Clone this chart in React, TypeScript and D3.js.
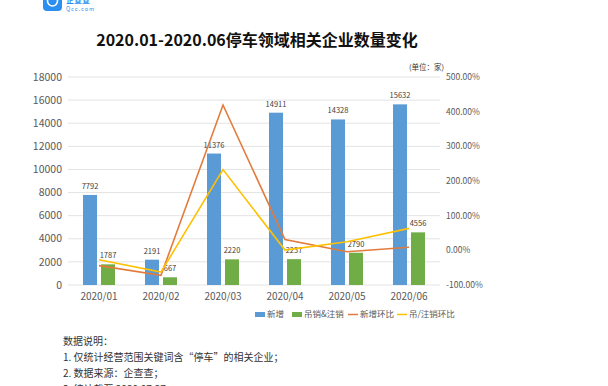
import React from 'react';
import * as d3 from 'd3';

const months = ['2020/01', '2020/02', '2020/03', '2020/04', '2020/05', '2020/06'];
const added = [7792, 2191, 11376, 14911, 14328, 15632];
const revoked = [1787, 667, 2220, 2237, 2790, 4556];
const addedMoM = [-44, -71.9, 419.2, 31.1, -3.9, 9.1];
const revokedMoM = [-27, -62.7, 232.8, 0.8, 24.7, 63.3];
const leftTicks = [0, 2000, 4000, 6000, 8000, 10000, 12000, 14000, 16000, 18000];
const rightTicks = [-100, 0, 100, 200, 300, 400, 500];
const notes = [
  '数据说明：',
  '1. 仅统计经营范围关键词含“停车”的相关企业；',
  '2. 数据来源：企查查；',
  '3. 统计截至 2020.07.27',
];

const W = 608;
const H = 386;
const M = { top: 77, right: 168, bottom: 101, left: 68 };
const FONT = '"Noto Sans CJK SC", "Noto Sans", sans-serif';

const BLUE = '#5b9bd5';
const GREEN = '#70ad47';
const ORANGE = '#e27b3c';
const YELLOW = '#ffc000';

export default function App() {
  const x = d3.scaleBand().domain(months).range([M.left, W - M.right]);
  const y = d3.scaleLinear().domain([0, 18000]).range([H - M.bottom, M.top]);
  const y2 = d3.scaleLinear().domain([-100, 500]).range([H - M.bottom, M.top]);
  const barW = 14;
  const cx = (m: string) => (x(m) as number) + x.bandwidth() / 2;

  const line = d3
    .line<number>()
    .x((_, i) => cx(months[i]))
    .y((d) => y2(d));

  const legend = [
    { label: '新增', color: BLUE, kind: 'rect', x: 255 },
    { label: '吊销&注销', color: GREEN, kind: 'rect', x: 292 },
    { label: '新增环比', color: ORANGE, kind: 'line', x: 348 },
    { label: '吊/注销环比', color: YELLOW, kind: 'line', x: 397 },
  ];

  return (
    <svg width={W} height={H} style={{ position: 'absolute', left: 0, top: 0, background: '#fff' }} fontFamily={FONT}>
      {/* logo, cut by the top edge like in the source image */}
      <rect x={43} y={-8} width={19} height={19} rx={4} fill="#2a8ff0" />
      <circle cx={52.5} cy={1} r={5} fill="none" stroke="#fff" strokeWidth={1.6} />
      <text x={66} y={3} fontSize={8} fill="#2a8ff0" fontWeight="bold">企查查</text>
      <text x={66} y={11} fontSize={5.5} fill="#2a8ff0" letterSpacing={1}>Qcc.com</text>

      <text x={257} y={46} textAnchor="middle" fontSize={16} fontWeight="bold" fill="#111">
        2020.01-2020.06停车领域相关企业数量变化
      </text>
      <text x={444} y={70} textAnchor="end" fontSize={7.5} fill="#333">(单位：家)</text>

      {leftTicks.map((t) => (
        <g key={t}>
          <line x1={M.left} x2={W - M.right} y1={y(t)} y2={y(t)} stroke="#e3e3e3" strokeWidth={1} />
          <text x={62} y={y(t)} dy="0.35em" textAnchor="end" fontSize={10.5} fill="#595959">{t}</text>
        </g>
      ))}
      {rightTicks.map((t) => (
        <text key={t} x={446} y={y2(t)} dy="0.35em" fontSize={8.5} fill="#595959">
          {t.toFixed(2)}%
        </text>
      ))}

      {months.map((m, i) => (
        <g key={m}>
          <rect x={cx(m) - 16} y={y(added[i])} width={barW} height={y(0) - y(added[i])} fill={BLUE} />
          <rect x={cx(m) + 2} y={y(revoked[i])} width={barW} height={y(0) - y(revoked[i])} fill={GREEN} />
          <text x={cx(m) - 9} y={y(added[i]) - 6} textAnchor="middle" fontSize={7.5} fill="#404040">{added[i]}</text>
          <text x={cx(m) + 9} y={y(revoked[i]) - 6} textAnchor="middle" fontSize={7.5} fill="#404040">{revoked[i]}</text>
          <text x={cx(m)} y={y(0) + 15} textAnchor="middle" fontSize={10} fill="#595959">{m}</text>
        </g>
      ))}

      <path d={line(addedMoM) || ''} fill="none" stroke={ORANGE} strokeWidth={1.6} />
      <path d={line(revokedMoM) || ''} fill="none" stroke={YELLOW} strokeWidth={1.6} />

      {legend.map((l) => (
        <g key={l.label}>
          {l.kind === 'rect' ? (
            <rect x={l.x} y={312} width={10} height={5} fill={l.color} />
          ) : (
            <line x1={l.x} x2={l.x + 10} y1={314.5} y2={314.5} stroke={l.color} strokeWidth={1.5} />
          )}
          <text x={l.x + 12} y={314.5} dy="0.35em" fontSize={8.5} fill="#595959">{l.label}</text>
        </g>
      ))}

      {notes.map((n, i) => (
        <text key={n} x={63} y={341 + i * 16} dy="0.35em" fontSize={10} fill="#333">{n}</text>
      ))}
    </svg>
  );
}
